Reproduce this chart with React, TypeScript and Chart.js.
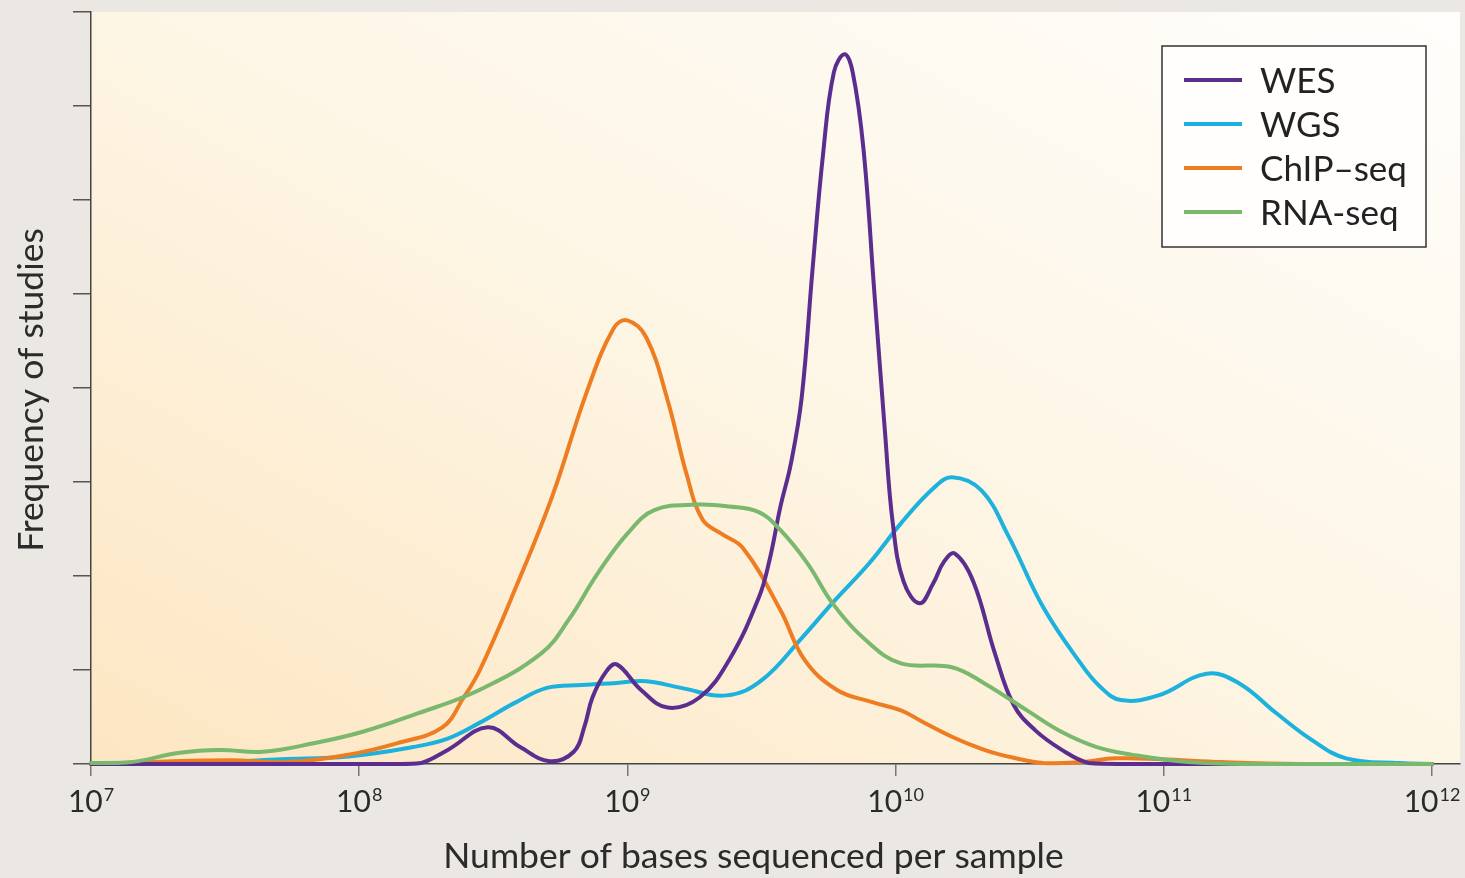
import React, { useEffect, useRef } from "react";
import { Chart, registerables } from "chart.js";

Chart.register(...registerables);

// ---- data ----
const seriesNames = ["WES", "WGS", "ChIP–seq", "RNA-seq"];
const seriesColors = ["#5a2d8f", "#1db1dd", "#ee7d22", "#79b86d"];

// x values are log10(number of bases sequenced per sample)
const wesExp = [7.0, 8.15, 8.23, 8.33, 8.48, 8.6, 8.71, 8.8, 8.84, 8.87, 8.92, 8.96, 9.05, 9.15, 9.27, 9.38, 9.49, 9.53, 9.57, 9.61, 9.65, 9.69, 9.73, 9.77, 9.81, 9.84, 9.88, 9.92, 9.96, 9.99, 10.03, 10.09, 10.14, 10.18, 10.22, 10.29, 10.37, 10.44, 10.52, 10.62, 10.72, 10.84, 12.0];
const wesFreq = [0, 0, 0.01, 0.15, 0.39, 0.18, 0.03, 0.13, 0.4, 0.71, 0.98, 1.06, 0.79, 0.6, 0.71, 1.11, 1.77, 2.17, 2.73, 3.2, 3.9, 5.25, 6.5, 7.36, 7.55, 7.36, 6.55, 5.05, 3.55, 2.55, 1.94, 1.71, 1.92, 2.15, 2.24, 1.94, 1.18, 0.63, 0.36, 0.15, 0.01, 0, 0];

const wgsExp = [7.0, 7.46, 7.71, 7.96, 8.2, 8.33, 8.45, 8.58, 8.7, 8.83, 8.95, 9.07, 9.2, 9.37, 9.5, 9.65, 9.77, 9.9, 10.02, 10.14, 10.21, 10.32, 10.42, 10.55, 10.69, 10.76, 10.84, 10.98, 11.16, 11.28, 11.42, 11.55, 11.68, 11.88, 12.0];
const wgsFreq = [0.01, 0.02, 0.05, 0.08, 0.18, 0.27, 0.44, 0.65, 0.81, 0.84, 0.86, 0.88, 0.81, 0.73, 0.89, 1.34, 1.73, 2.13, 2.56, 2.93, 3.05, 2.91, 2.43, 1.67, 1.07, 0.83, 0.68, 0.73, 0.96, 0.86, 0.54, 0.26, 0.06, 0.01, 0];

const chipExp = [7.0, 7.21, 7.52, 7.73, 7.96, 8.14, 8.31, 8.39, 8.45, 8.58, 8.72, 8.85, 8.95, 9.0, 9.07, 9.15, 9.22, 9.28, 9.35, 9.43, 9.57, 9.66, 9.78, 9.91, 10.02, 10.1, 10.21, 10.32, 10.39, 10.55, 10.69, 10.82, 10.99, 11.22, 11.51, 12.0];
const chipFreq = [0, 0.02, 0.04, 0.02, 0.1, 0.22, 0.39, 0.71, 1.0, 1.85, 2.85, 3.97, 4.64, 4.72, 4.54, 3.87, 3.09, 2.6, 2.45, 2.3, 1.64, 1.11, 0.79, 0.66, 0.57, 0.45, 0.29, 0.16, 0.1, 0.01, 0.02, 0.06, 0.05, 0.02, 0, 0];

const rnaExp = [7.0, 7.15, 7.33, 7.48, 7.64, 7.83, 8.01, 8.2, 8.45, 8.68, 8.78, 8.89, 9.0, 9.1, 9.26, 9.38, 9.49, 9.57, 9.67, 9.77, 9.9, 10.02, 10.21, 10.33, 10.49, 10.62, 10.75, 10.88, 11.09, 11.33, 12.0];
const rnaFreq = [0.01, 0.02, 0.12, 0.15, 0.13, 0.22, 0.34, 0.52, 0.79, 1.18, 1.53, 2.03, 2.45, 2.7, 2.76, 2.74, 2.68, 2.49, 2.14, 1.69, 1.29, 1.07, 1.03, 0.86, 0.57, 0.34, 0.18, 0.1, 0.02, 0, 0];

const xTickExponents = [7, 8, 9, 10, 11, 12];
const yTickValues = [0, 1, 2, 3, 4, 5, 6, 7, 8];

const xTitle = "Number of bases sequenced per sample";
const yTitle = "Frequency of studies";

const FONT = "Lato";

function toPoints(exps: number[], freqs: number[]) {
  return exps.map((e, i) => ({ x: Math.pow(10, e), y: freqs[i] }));
}

const decorPlugin = {
  id: "decor",
  beforeDraw(chart: any) {
    const { ctx, chartArea: a, width, height } = chart;
    ctx.save();
    ctx.fillStyle = "#ebe8e3";
    ctx.fillRect(0, 0, width, height);
    const g = ctx.createLinearGradient(a.left, a.bottom, a.left + 635, a.bottom - 1157);
    g.addColorStop(0, "#fde6c2");
    g.addColorStop(0.5, "#fdf5e4");
    g.addColorStop(1, "#fffefc");
    ctx.fillStyle = g;
    ctx.fillRect(a.left, a.top, a.right - a.left, a.bottom - a.top);
    ctx.restore();
  },
  afterDraw(chart: any) {
    const { ctx, chartArea: a } = chart;
    const xs = chart.scales.x;
    ctx.save();
    // x tick labels with superscript exponents
    ctx.fillStyle = "#2a2a2a";
    ctx.textAlign = "left";
    ctx.textBaseline = "alphabetic";
    for (const e of xTickExponents) {
      const px = xs.getPixelForValue(Math.pow(10, e));
      ctx.font = `30px ${FONT}`;
      const base = "10";
      const w1 = ctx.measureText(base).width;
      ctx.font = `18px ${FONT}`;
      const sup = String(e);
      const w2 = ctx.measureText(sup).width;
      const start = px - (w1 + w2 + 1) / 2;
      ctx.font = `30px ${FONT}`;
      ctx.fillText(base, start, xs.top + 48);
      ctx.font = `18px ${FONT}`;
      ctx.fillText(sup, start + w1 + 1, xs.top + 37);
    }
    // x axis title
    ctx.font = `35.5px ${FONT}`;
    ctx.fillStyle = "#2b2b2b";
    ctx.textAlign = "center";
    ctx.textBaseline = "middle";
    const xMid = (xs.getPixelForValue(Math.pow(10, 7)) + xs.getPixelForValue(Math.pow(10, 12))) / 2 - 8;
    ctx.fillText(xTitle, xMid, xs.top + 93);
    // y axis title
    ctx.save();
    ctx.translate(32, (a.top + a.bottom) / 2 + 2);
    ctx.rotate(-Math.PI / 2);
    ctx.fillText(yTitle, 0, 0);
    ctx.restore();
    // legend box
    const bx = a.right - 298;
    const by = a.top + 34;
    const bw = 264;
    const bh = 201;
    ctx.fillStyle = "#fffefd";
    ctx.fillRect(bx, by, bw, bh);
    ctx.strokeStyle = "#333";
    ctx.lineWidth = 1.5;
    ctx.strokeRect(bx, by, bw, bh);
    ctx.font = `35px ${FONT}`;
    ctx.textAlign = "left";
    ctx.textBaseline = "alphabetic";
    seriesNames.forEach((name, i) => {
      const y = by + 34 + i * 44;
      ctx.strokeStyle = seriesColors[i];
      ctx.lineWidth = 4;
      ctx.beginPath();
      ctx.moveTo(bx + 22, y);
      ctx.lineTo(bx + 80, y);
      ctx.stroke();
      ctx.fillStyle = "#222";
      ctx.fillText(name, bx + 98, y + 13);
    });
    ctx.restore();
  },
};

export default function App() {
  const ref = useRef<HTMLCanvasElement | null>(null);
  useEffect(() => {
    if (!ref.current) return;
    const series = [
      { exp: wesExp, freq: wesFreq, order: 1 },
      { exp: wgsExp, freq: wgsFreq, order: 3 },
      { exp: chipExp, freq: chipFreq, order: 2 },
      { exp: rnaExp, freq: rnaFreq, order: 0 },
    ];
    const chart = new Chart(ref.current, {
      type: "line",
      data: {
        datasets: series.map((s, i) => ({
          label: seriesNames[i],
          data: toPoints(s.exp, s.freq),
          borderColor: seriesColors[i],
          backgroundColor: seriesColors[i],
          borderWidth: 4,
          pointRadius: 0,
          fill: false,
          tension: 0.4,
          borderCapStyle: "round" as const,
          borderJoinStyle: "round" as const,
          clip: 6,
          order: s.order,
        })),
      },
      options: {
        responsive: false,
        animation: false,
        devicePixelRatio: 1,
        layout: { padding: { left: 73, top: 12, right: 5, bottom: 102 } },
        plugins: {
          legend: { display: false },
          tooltip: { enabled: false },
        },
        scales: {
          x: {
            type: "logarithmic",
            min: 1e7,
            max: 1.272e12,
            afterBuildTicks: (s: any) => {
              s.ticks = xTickExponents.map((e) => ({ value: Math.pow(10, e) }));
            },
            ticks: { display: false },
            grid: {
              display: true,
              drawOnChartArea: false,
              drawTicks: true,
              tickLength: 12,
              color: "#777",
              lineWidth: 1.5,
            },
            border: { display: true, color: "#444", width: 1.5 },
            title: { display: false, text: xTitle },
          },
          y: {
            type: "linear",
            min: 0,
            max: 8,
            afterBuildTicks: (s: any) => {
              s.ticks = yTickValues.map((v) => ({ value: v }));
            },
            ticks: { display: false },
            grid: {
              display: true,
              drawOnChartArea: false,
              drawTicks: true,
              tickLength: 18,
              color: "#555",
              lineWidth: 1.5,
            },
            border: { display: true, color: "#444", width: 1.5 },
            title: { display: false, text: yTitle },
          },
        },
      },
      plugins: [decorPlugin],
    });
    return () => chart.destroy();
  }, []);
  return (
    <div style={{ position: "absolute", left: 0, top: 0, width: 1465, height: 878 }}>
      <canvas ref={ref} width={1465} height={878} style={{ display: "block" }} />
    </div>
  );
}
